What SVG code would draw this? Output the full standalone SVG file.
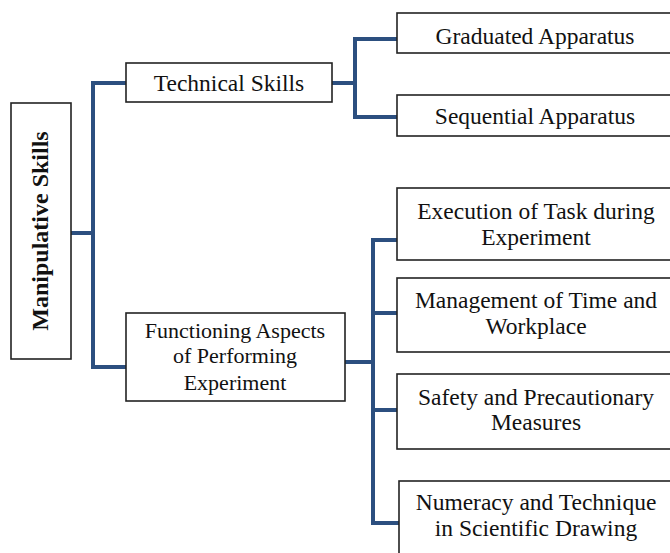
<svg xmlns="http://www.w3.org/2000/svg" width="670" height="553" viewBox="0 0 670 553">
<style>
.box{fill:#fff;stroke:#222;stroke-width:1.6}
.t{font-family:"Liberation Serif","Times New Roman",serif;font-size:23.5px;fill:#111;text-anchor:middle}
.s{font-size:22px}
.b{font-weight:bold;font-size:24px}
.c{fill:none;stroke:#2c4f7f;stroke-width:4;stroke-linejoin:miter}
</style>
<rect width="670" height="553" fill="#fff"/>
<g id="connectors">
<path class="c" d="M71 233H93"/>
<path class="c" d="M126 83H93V367H126"/>
<path class="c" d="M332 83H355"/>
<path class="c" d="M397 39H355V117H397"/>
<path class="c" d="M345 362H373"/>
<path class="c" d="M397 240H373V523H399"/>
<path class="c" d="M373 313H397"/>
<path class="c" d="M373 410H397"/>
</g>
<g id="manipulative">
<rect class="box" x="11" y="103" width="60" height="256"/>
<text class="t b" transform="translate(48 231) rotate(-90)">Manipulative Skills</text>
</g>
<g id="technical">
<rect class="box" x="126" y="63" width="206" height="39"/>
<text class="t" x="229" y="91">Technical Skills</text>
</g>
<g id="graduated">
<rect class="box" x="397" y="13" width="280" height="40"/>
<text class="t" x="535" y="44">Graduated Apparatus</text>
</g>
<g id="sequential">
<rect class="box" x="397" y="95" width="280" height="41"/>
<text class="t" x="535" y="124">Sequential Apparatus</text>
</g>
<g id="functioning">
<rect class="box" x="126" y="313" width="219" height="88"/>
<text class="t s" x="235" y="338">Functioning Aspects</text>
<text class="t s" x="235" y="363">of Performing</text>
<text class="t s" x="235" y="390">Experiment</text>
</g>
<g id="execution">
<rect class="box" x="397" y="188" width="280" height="72"/>
<text class="t" x="536" y="219">Execution of Task during</text>
<text class="t" x="536" y="245">Experiment</text>
</g>
<g id="management">
<rect class="box" x="397" y="278" width="280" height="74"/>
<text class="t" x="536" y="308">Management of Time and</text>
<text class="t" x="536" y="334">Workplace</text>
</g>
<g id="safety">
<rect class="box" x="397" y="374" width="280" height="75"/>
<text class="t" x="536" y="405">Safety and Precautionary</text>
<text class="t" x="536" y="430">Measures</text>
</g>
<g id="numeracy">
<rect class="box" x="399" y="481" width="280" height="80"/>
<text class="t" x="536" y="510">Numeracy and Technique</text>
<text class="t" x="536" y="536">in Scientific Drawing</text>
</g>
</svg>
